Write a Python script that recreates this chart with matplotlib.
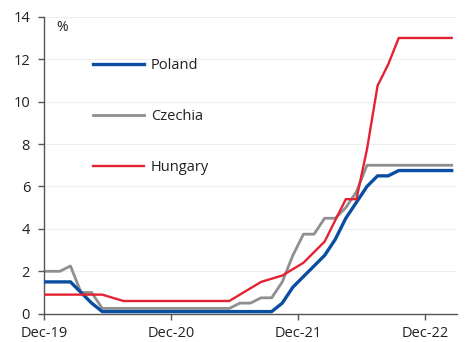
import numpy as np
import matplotlib.pyplot as plt

# month-end policy rates, Nov-19 .. Feb-23 (one value per month)
poland = [1.5, 1.5, 1.5, 1.5, 1.0, 0.5, 0.1] + [0.1] * 16 + \
    [0.5, 1.25, 1.75, 2.25, 2.75, 3.5, 4.5, 5.25, 6.0, 6.5, 6.5, 6.75,
     6.75, 6.75, 6.75, 6.75, 6.75]
czechia = [2.0, 2.0, 2.0, 2.25, 1.0, 1.0, 0.25] + [0.25] * 12 + \
    [0.5, 0.5, 0.75, 0.75, 1.5, 2.75, 3.75, 3.75, 4.5, 4.5, 5.0, 5.75, 7.0] + \
    [7.0] * 8
hungary = [0.9, 0.9] + [0.9] * 5 + [0.75, 0.6] + [0.6] * 10 + \
    [0.9, 1.2, 1.5, 1.65, 1.8, 2.1, 2.4, 2.9, 3.4, 4.4, 5.4, 5.4, 7.75,
     10.75, 11.75, 13.0] + [13.0] * 5

tick_labels = ['Dec-19', 'Dec-20', 'Dec-21', 'Dec-22']

# months since Dec-19, points plotted mid-month
x = np.arange(-1, len(poland) - 1) + 0.5

plt.rcParams['font.family'] = ['Open Sans', 'DejaVu Sans']

fig = plt.figure(figsize=(4.69, 3.42), dpi=100)
ax = fig.add_axes([0.0938, 0.0827, 0.8806, 0.8683])

ax.plot(x, poland, color='#0a4ea1', lw=2.4, label='Poland', zorder=3)
ax.plot(x, czechia, color='#8f8f8f', lw=2.0, label='Czechia', zorder=2)
ax.plot(x, hungary, color='#e52232', lw=1.7, label='Hungary', zorder=4)

ax.set_xlim(0, 39)
ax.set_ylim(0, 14)
ax.set_yticks(np.arange(0, 15, 2))
ax.set_xticks([0, 12, 24, 36])
ax.set_xticklabels(tick_labels)
ax.grid(axis='y', color='#eeeeee', lw=0.8)
ax.set_axisbelow(True)

for s in ['top', 'right']:
    ax.spines[s].set_visible(False)
for s in ['left', 'bottom']:
    ax.spines[s].set_color('#555555')
    ax.spines[s].set_linewidth(1.0)
ax.tick_params(colors='#555555', labelcolor='#222222', labelsize=10.5,
               length=4, width=1.0)
ax.tick_params(axis='y', pad=6)
ax.tick_params(axis='x', pad=5)

ax.text(0.03, 0.963, '%', transform=ax.transAxes, fontsize=10,
        color='#222222', va='center')

leg = ax.legend(loc='upper left', bbox_to_anchor=(0.1, 0.885), frameon=False,
                handlelength=3.5, handletextpad=0.5, labelspacing=2.45,
                borderpad=0, fontsize=10.5)
for t in leg.get_texts():
    t.set_color('#222222')

fig.savefig('out.png', dpi=100)
